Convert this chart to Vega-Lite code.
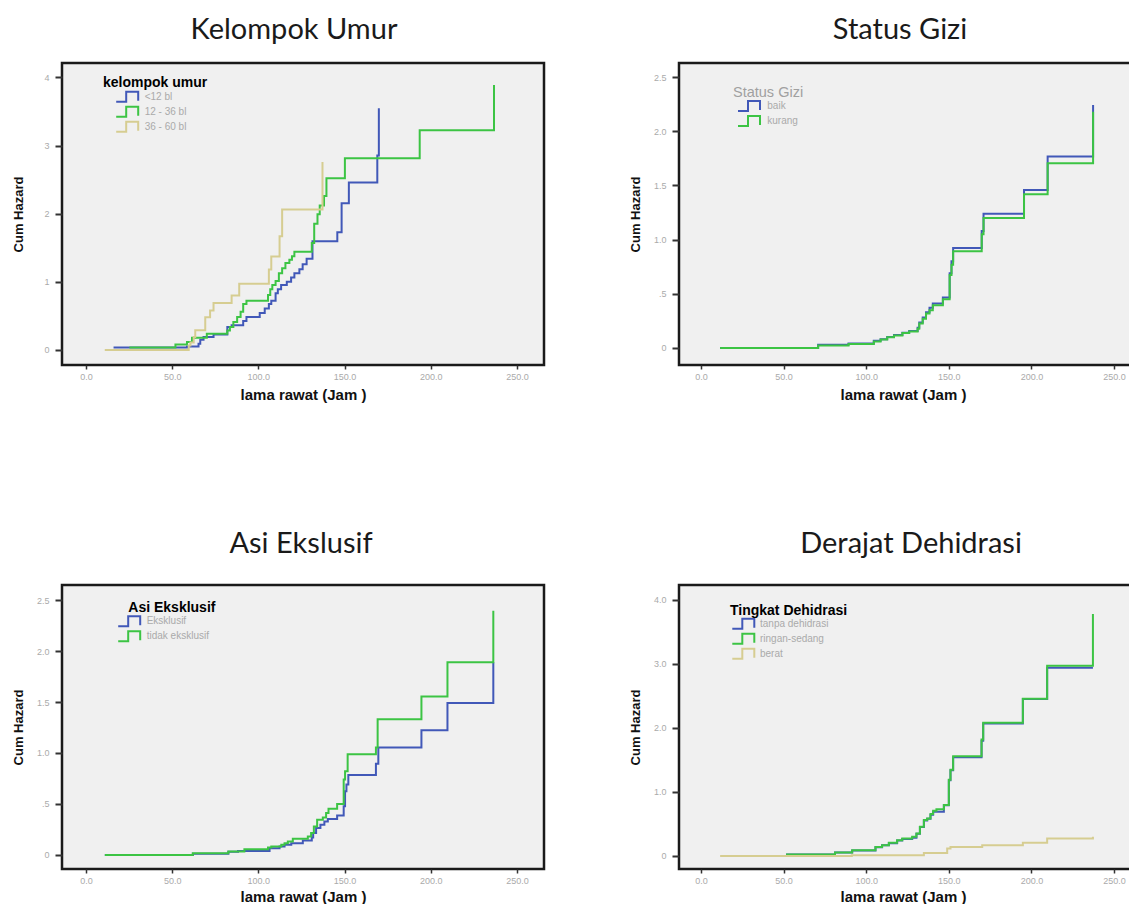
{
  "$schema": "https://vega.github.io/schema/vega-lite/v6.json",
  "autosize": {"type": "none"},
  "padding": {"left": 62, "top": 63, "right": 1067, "bottom": 841},
  "background": "white",
  "bounds": "flush",
  "columns": 2,
  "spacing": {"row": 220, "column": 135},
  "resolve": {"scale": {"x": "independent", "y": "independent", "color": "independent"}, "legend": {"color": "independent"}},
  "config": {
    "view": {"fill": "#f0f0f0", "stroke": "#1a1a1a", "strokeWidth": 2.5},
    "axis": {"grid": false, "domain": false, "labelFont": "Liberation Sans", "labelFontSize": 9, "labelColor": "#aaaaaa", "tickColor": "#333333", "titleFont": "Liberation Sans", "titleFontSize": 13, "titleFontWeight": "bold", "titleColor": "#111111"},
    "axisX": {"tickSize": 4, "tickWidth": 1.5, "labelPadding": 3, "titleFontSize": 15},
    "axisY": {"tickSize": 7, "tickWidth": 2, "labelPadding": 6},
    "legend": {"orient": "none", "padding": 0, "symbolType": "M-2.2,1L-0.2,1L-0.2,-1L2.2,-1L2.2,0.8", "symbolSize": 100, "symbolStrokeWidth": 2, "symbolFillColor": "transparent", "labelFont": "Liberation Sans", "labelFontSize": 10, "labelColor": "#aaaaaa", "titleFont": "Liberation Sans", "titleFontSize": 14, "titleFontWeight": "bold", "titleColor": "#000000"},
    "title": {"font": "Lato", "fontSize": 29, "fontWeight": "normal", "color": "#1a1a1a", "anchor": "middle", "frame": "group", "baseline": "alphabetic"}
  },
  "concat": [
    {
      "width": 482, "height": 302,
      "title": {"text": "Kelompok Umur", "offset": 18, "dx": -9},
      "data": {"values": [
        {"g": "<12 bl", "x": 16.0, "y": 0.035}, {"g": "<12 bl", "x": 58.6, "y": 0.05}, {"g": "<12 bl", "x": 65.3, "y": 0.089}, {"g": "<12 bl", "x": 66.3, "y": 0.148}, {"g": "<12 bl", "x": 68.2, "y": 0.188}, {"g": "<12 bl", "x": 74.0, "y": 0.227}, {"g": "<12 bl", "x": 82.0, "y": 0.336}, {"g": "<12 bl", "x": 84.5, "y": 0.36}, {"g": "<12 bl", "x": 91.2, "y": 0.425}, {"g": "<12 bl", "x": 93.1, "y": 0.484}, {"g": "<12 bl", "x": 100.8, "y": 0.543}, {"g": "<12 bl", "x": 103.7, "y": 0.607}, {"g": "<12 bl", "x": 106.1, "y": 0.672}, {"g": "<12 bl", "x": 107.5, "y": 0.721}, {"g": "<12 bl", "x": 110.0, "y": 0.83}, {"g": "<12 bl", "x": 111.3, "y": 0.889}, {"g": "<12 bl", "x": 113.2, "y": 0.953}, {"g": "<12 bl", "x": 116.5, "y": 1.002}, {"g": "<12 bl", "x": 119.0, "y": 1.062}, {"g": "<12 bl", "x": 120.9, "y": 1.126}, {"g": "<12 bl", "x": 123.8, "y": 1.185}, {"g": "<12 bl", "x": 125.7, "y": 1.259}, {"g": "<12 bl", "x": 128.0, "y": 1.338}, {"g": "<12 bl", "x": 131.4, "y": 1.595}, {"g": "<12 bl", "x": 145.8, "y": 1.728}, {"g": "<12 bl", "x": 148.3, "y": 2.153}, {"g": "<12 bl", "x": 152.5, "y": 2.459}, {"g": "<12 bl", "x": 169.0, "y": 2.854}, {"g": "<12 bl", "x": 169.9, "y": 3.546},
        {"g": "12 - 36 bl", "x": 25.2, "y": 0.035}, {"g": "12 - 36 bl", "x": 51.9, "y": 0.079}, {"g": "12 - 36 bl", "x": 58.6, "y": 0.114}, {"g": "12 - 36 bl", "x": 61.5, "y": 0.178}, {"g": "12 - 36 bl", "x": 70.1, "y": 0.237}, {"g": "12 - 36 bl", "x": 82.0, "y": 0.286}, {"g": "12 - 36 bl", "x": 83.5, "y": 0.336}, {"g": "12 - 36 bl", "x": 85.5, "y": 0.41}, {"g": "12 - 36 bl", "x": 87.7, "y": 0.484}, {"g": "12 - 36 bl", "x": 89.7, "y": 0.558}, {"g": "12 - 36 bl", "x": 91.2, "y": 0.672}, {"g": "12 - 36 bl", "x": 93.1, "y": 0.721}, {"g": "12 - 36 bl", "x": 105.6, "y": 0.805}, {"g": "12 - 36 bl", "x": 106.9, "y": 0.889}, {"g": "12 - 36 bl", "x": 108.1, "y": 0.953}, {"g": "12 - 36 bl", "x": 110.0, "y": 1.012}, {"g": "12 - 36 bl", "x": 111.9, "y": 1.126}, {"g": "12 - 36 bl", "x": 113.8, "y": 1.2}, {"g": "12 - 36 bl", "x": 115.7, "y": 1.274}, {"g": "12 - 36 bl", "x": 118.0, "y": 1.323}, {"g": "12 - 36 bl", "x": 119.5, "y": 1.373}, {"g": "12 - 36 bl", "x": 120.9, "y": 1.442}, {"g": "12 - 36 bl", "x": 131.0, "y": 1.57}, {"g": "12 - 36 bl", "x": 132.4, "y": 1.852}, {"g": "12 - 36 bl", "x": 134.3, "y": 1.99}, {"g": "12 - 36 bl", "x": 135.6, "y": 2.12}, {"g": "12 - 36 bl", "x": 138.1, "y": 2.26}, {"g": "12 - 36 bl", "x": 139.5, "y": 2.52}, {"g": "12 - 36 bl", "x": 150.2, "y": 2.815}, {"g": "12 - 36 bl", "x": 193.6, "y": 3.225}, {"g": "12 - 36 bl", "x": 236.7, "y": 3.89},
        {"g": "36 - 60 bl", "x": 10.9, "y": 0}, {"g": "36 - 60 bl", "x": 59.6, "y": 0.064}, {"g": "36 - 60 bl", "x": 60.6, "y": 0.11}, {"g": "36 - 60 bl", "x": 62.5, "y": 0.19}, {"g": "36 - 60 bl", "x": 63.4, "y": 0.29}, {"g": "36 - 60 bl", "x": 69.2, "y": 0.48}, {"g": "36 - 60 bl", "x": 72.0, "y": 0.58}, {"g": "36 - 60 bl", "x": 74.0, "y": 0.69}, {"g": "36 - 60 bl", "x": 84.5, "y": 0.8}, {"g": "36 - 60 bl", "x": 88.9, "y": 0.97}, {"g": "36 - 60 bl", "x": 106.1, "y": 1.18}, {"g": "36 - 60 bl", "x": 107.5, "y": 1.37}, {"g": "36 - 60 bl", "x": 112.3, "y": 1.67}, {"g": "36 - 60 bl", "x": 113.8, "y": 2.06}, {"g": "36 - 60 bl", "x": 137.2, "y": 2.76}
      ]},
      "mark": {"type": "line", "interpolate": "step-after", "strokeWidth": 2},
      "encoding": {
        "x": {"field": "x", "type": "quantitative", "scale": {"domain": [-13.9, 265.7], "nice": false, "zero": false}, "axis": {"values": [0, 50, 100, 150, 200, 250], "format": ".1f", "title": "lama rawat (Jam )", "titleY": 29, "titleBaseline": "middle"}},
        "y": {"field": "y", "type": "quantitative", "scale": {"domain": [-0.222, 4.212], "nice": false, "zero": false}, "axis": {"values": [0, 1, 2, 3, 4], "format": "d", "title": "Cum Hazard", "titleX": -44, "titleBaseline": "middle"}},
        "color": {"field": "g", "type": "nominal", "scale": {"domain": ["<12 bl", "12 - 36 bl", "36 - 60 bl"], "range": ["#4158b8", "#3cc444", "#d6cd91"]}, "legend": {"title": "kelompok umur", "legendX": 41, "legendY": 12.7, "titlePadding": 1, "rowPadding": -4.9, "symbolOffset": 18.2, "labelOffset": 11.5}}
      }
    },
    {
      "width": 482, "height": 302,
      "title": {"text": "Status Gizi", "offset": 18, "dx": -20},
      "data": {"values": [
        {"g": "baik", "x": 11.6, "y": 0}, {"g": "baik", "x": 70.9, "y": 0.03}, {"g": "baik", "x": 89.3, "y": 0.04}, {"g": "baik", "x": 104.6, "y": 0.065}, {"g": "baik", "x": 108.7, "y": 0.08}, {"g": "baik", "x": 112.7, "y": 0.1}, {"g": "baik", "x": 116.8, "y": 0.12}, {"g": "baik", "x": 121.9, "y": 0.14}, {"g": "baik", "x": 126.0, "y": 0.155}, {"g": "baik", "x": 131.1, "y": 0.185}, {"g": "baik", "x": 132.1, "y": 0.235}, {"g": "baik", "x": 134.2, "y": 0.28}, {"g": "baik", "x": 136.2, "y": 0.33}, {"g": "baik", "x": 138.3, "y": 0.37}, {"g": "baik", "x": 140.3, "y": 0.41}, {"g": "baik", "x": 146.4, "y": 0.465}, {"g": "baik", "x": 150.5, "y": 0.69}, {"g": "baik", "x": 151.6, "y": 0.8}, {"g": "baik", "x": 152.6, "y": 0.922}, {"g": "baik", "x": 169.9, "y": 1.08}, {"g": "baik", "x": 171.0, "y": 1.239}, {"g": "baik", "x": 195.5, "y": 1.457}, {"g": "baik", "x": 209.8, "y": 1.767}, {"g": "baik", "x": 237.3, "y": 2.242},
        {"g": "kurang", "x": 11.6, "y": 0}, {"g": "kurang", "x": 70.9, "y": 0.022}, {"g": "kurang", "x": 89.3, "y": 0.037}, {"g": "kurang", "x": 104.6, "y": 0.059}, {"g": "kurang", "x": 108.7, "y": 0.078}, {"g": "kurang", "x": 112.7, "y": 0.099}, {"g": "kurang", "x": 116.8, "y": 0.115}, {"g": "kurang", "x": 121.9, "y": 0.137}, {"g": "kurang", "x": 126.0, "y": 0.152}, {"g": "kurang", "x": 131.1, "y": 0.177}, {"g": "kurang", "x": 132.1, "y": 0.224}, {"g": "kurang", "x": 134.2, "y": 0.27}, {"g": "kurang", "x": 136.2, "y": 0.317}, {"g": "kurang", "x": 138.3, "y": 0.348}, {"g": "kurang", "x": 140.3, "y": 0.394}, {"g": "kurang", "x": 146.4, "y": 0.45}, {"g": "kurang", "x": 150.5, "y": 0.673}, {"g": "kurang", "x": 151.6, "y": 0.767}, {"g": "kurang", "x": 152.6, "y": 0.891}, {"g": "kurang", "x": 169.9, "y": 1.05}, {"g": "kurang", "x": 171.0, "y": 1.2}, {"g": "kurang", "x": 195.5, "y": 1.419}, {"g": "kurang", "x": 209.8, "y": 1.705}, {"g": "kurang", "x": 237.3, "y": 2.18}
      ]},
      "mark": {"type": "line", "interpolate": "step-after", "strokeWidth": 2},
      "encoding": {
        "x": {"field": "x", "type": "quantitative", "scale": {"domain": [-13.3, 278.4], "nice": false, "zero": false}, "axis": {"values": [0, 50, 100, 150, 200, 250], "format": ".1f", "title": "lama rawat (Jam )", "titleY": 29, "titleBaseline": "middle", "titleX": 224}},
        "y": {"field": "y", "type": "quantitative", "scale": {"domain": [-0.158, 2.63], "nice": false, "zero": false}, "axis": {"values": [0, 0.5, 1, 1.5, 2, 2.5], "labelExpr": "datum.value == 0 ? '0' : (datum.value < 1 ? '.5' : format(datum.value, '.1f'))", "title": "Cum Hazard", "titleX": -44, "titleBaseline": "middle"}},
        "color": {"field": "g", "type": "nominal", "scale": {"domain": ["baik", "kurang"], "range": ["#4158b8", "#3cc444"]}, "legend": {"title": "Status Gizi", "titleColor": "#a0a0a0", "titleFontWeight": "normal", "titleFontSize": 14.5, "legendX": 54, "legendY": 22.5, "titlePadding": 0, "rowPadding": -4, "symbolOffset": 10, "labelOffset": 12.3}}
      }
    },
    {
      "width": 482, "height": 284,
      "title": {"text": "Asi Ekslusif", "offset": 26, "dx": -2},
      "data": {"values": [
        {"g": "Eksklusif", "x": 10.95, "y": 0}, {"g": "Eksklusif", "x": 62.0, "y": 0.012}, {"g": "Eksklusif", "x": 82.6, "y": 0.03}, {"g": "Eksklusif", "x": 88.2, "y": 0.039}, {"g": "Eksklusif", "x": 106.5, "y": 0.066}, {"g": "Eksklusif", "x": 112.3, "y": 0.082}, {"g": "Eksklusif", "x": 115.2, "y": 0.099}, {"g": "Eksklusif", "x": 119.1, "y": 0.115}, {"g": "Eksklusif", "x": 125.8, "y": 0.141}, {"g": "Eksklusif", "x": 131.0, "y": 0.171}, {"g": "Eksklusif", "x": 131.8, "y": 0.214}, {"g": "Eksklusif", "x": 133.5, "y": 0.263}, {"g": "Eksklusif", "x": 136.0, "y": 0.296}, {"g": "Eksklusif", "x": 138.3, "y": 0.329}, {"g": "Eksklusif", "x": 140.3, "y": 0.352}, {"g": "Eksklusif", "x": 145.7, "y": 0.388}, {"g": "Eksklusif", "x": 149.5, "y": 0.477}, {"g": "Eksklusif", "x": 150.3, "y": 0.625}, {"g": "Eksklusif", "x": 151.1, "y": 0.691}, {"g": "Eksklusif", "x": 152.2, "y": 0.783}, {"g": "Eksklusif", "x": 168.2, "y": 0.895}, {"g": "Eksklusif", "x": 169.6, "y": 1.053}, {"g": "Eksklusif", "x": 194.6, "y": 1.224}, {"g": "Eksklusif", "x": 209.7, "y": 1.49}, {"g": "Eksklusif", "x": 236.3, "y": 1.891},
        {"g": "tidak eksklusif", "x": 10.95, "y": 0}, {"g": "tidak eksklusif", "x": 62.0, "y": 0.016}, {"g": "tidak eksklusif", "x": 82.6, "y": 0.033}, {"g": "tidak eksklusif", "x": 91.9, "y": 0.056}, {"g": "tidak eksklusif", "x": 105.6, "y": 0.072}, {"g": "tidak eksklusif", "x": 107.5, "y": 0.082}, {"g": "tidak eksklusif", "x": 113.3, "y": 0.099}, {"g": "tidak eksklusif", "x": 115.2, "y": 0.115}, {"g": "tidak eksklusif", "x": 117.1, "y": 0.132}, {"g": "tidak eksklusif", "x": 120.0, "y": 0.158}, {"g": "tidak eksklusif", "x": 128.7, "y": 0.181}, {"g": "tidak eksklusif", "x": 130.6, "y": 0.214}, {"g": "tidak eksklusif", "x": 132.2, "y": 0.28}, {"g": "tidak eksklusif", "x": 134.1, "y": 0.345}, {"g": "tidak eksklusif", "x": 137.4, "y": 0.368}, {"g": "tidak eksklusif", "x": 139.3, "y": 0.411}, {"g": "tidak eksklusif", "x": 140.7, "y": 0.454}, {"g": "tidak eksklusif", "x": 145.7, "y": 0.5}, {"g": "tidak eksklusif", "x": 149.5, "y": 0.74}, {"g": "tidak eksklusif", "x": 150.3, "y": 0.822}, {"g": "tidak eksklusif", "x": 151.8, "y": 0.987}, {"g": "tidak eksklusif", "x": 168.2, "y": 1.053}, {"g": "tidak eksklusif", "x": 169.2, "y": 1.332}, {"g": "tidak eksklusif", "x": 194.6, "y": 1.553}, {"g": "tidak eksklusif", "x": 209.7, "y": 1.891}, {"g": "tidak eksklusif", "x": 236.3, "y": 2.395}
      ]},
      "mark": {"type": "line", "interpolate": "step-after", "strokeWidth": 2},
      "encoding": {
        "x": {"field": "x", "type": "quantitative", "scale": {"domain": [-13.9, 265.7], "nice": false, "zero": false}, "axis": {"values": [0, 50, 100, 150, 200, 250], "format": ".1f", "title": "lama rawat (Jam )", "titleY": 27, "titleBaseline": "middle"}},
        "y": {"field": "y", "type": "quantitative", "scale": {"domain": [-0.138, 2.648], "nice": false, "zero": false}, "axis": {"values": [0, 0.5, 1, 1.5, 2, 2.5], "labelExpr": "datum.value == 0 ? '0' : (datum.value < 1 ? '.5' : format(datum.value, '.1f'))", "title": "Cum Hazard", "titleX": -44, "titleBaseline": "middle"}},
        "color": {"field": "g", "type": "nominal", "scale": {"domain": ["Eksklusif", "tidak eksklusif"], "range": ["#4158b8", "#3cc444"]}, "legend": {"title": "Asi Eksklusif", "legendX": 66.3, "legendY": 16.3, "titlePadding": 0, "rowPadding": -9, "symbolOffset": -5.1, "labelOffset": 11.5}}
      }
    },
    {
      "width": 482, "height": 284,
      "title": {"text": "Derajat Dehidrasi", "offset": 26, "dx": -9},
      "data": {"values": [
        {"g": "tanpa dehidrasi", "x": 51.5, "y": 0.021}, {"g": "tanpa dehidrasi", "x": 81.1, "y": 0.052}, {"g": "tanpa dehidrasi", "x": 91.5, "y": 0.085}, {"g": "tanpa dehidrasi", "x": 105.6, "y": 0.135}, {"g": "tanpa dehidrasi", "x": 109.6, "y": 0.165}, {"g": "tanpa dehidrasi", "x": 113.7, "y": 0.2}, {"g": "tanpa dehidrasi", "x": 118.7, "y": 0.24}, {"g": "tanpa dehidrasi", "x": 121.8, "y": 0.265}, {"g": "tanpa dehidrasi", "x": 127.8, "y": 0.285}, {"g": "tanpa dehidrasi", "x": 130.4, "y": 0.345}, {"g": "tanpa dehidrasi", "x": 132.5, "y": 0.45}, {"g": "tanpa dehidrasi", "x": 134.9, "y": 0.555}, {"g": "tanpa dehidrasi", "x": 136.9, "y": 0.58}, {"g": "tanpa dehidrasi", "x": 138.9, "y": 0.645}, {"g": "tanpa dehidrasi", "x": 140.5, "y": 0.691}, {"g": "tanpa dehidrasi", "x": 147.0, "y": 0.79}, {"g": "tanpa dehidrasi", "x": 150.0, "y": 1.18}, {"g": "tanpa dehidrasi", "x": 151.0, "y": 1.34}, {"g": "tanpa dehidrasi", "x": 152.6, "y": 1.54}, {"g": "tanpa dehidrasi", "x": 169.8, "y": 1.8}, {"g": "tanpa dehidrasi", "x": 170.8, "y": 2.07}, {"g": "tanpa dehidrasi", "x": 194.8, "y": 2.45}, {"g": "tanpa dehidrasi", "x": 209.5, "y": 2.94}, {"g": "tanpa dehidrasi", "x": 237.2, "y": 2.94},
        {"g": "ringan-sedang", "x": 51.5, "y": 0.021}, {"g": "ringan-sedang", "x": 81.1, "y": 0.052}, {"g": "ringan-sedang", "x": 91.5, "y": 0.09}, {"g": "ringan-sedang", "x": 105.6, "y": 0.141}, {"g": "ringan-sedang", "x": 109.6, "y": 0.168}, {"g": "ringan-sedang", "x": 113.7, "y": 0.204}, {"g": "ringan-sedang", "x": 118.7, "y": 0.246}, {"g": "ringan-sedang", "x": 121.8, "y": 0.272}, {"g": "ringan-sedang", "x": 127.8, "y": 0.298}, {"g": "ringan-sedang", "x": 130.4, "y": 0.351}, {"g": "ringan-sedang", "x": 132.5, "y": 0.455}, {"g": "ringan-sedang", "x": 134.9, "y": 0.56}, {"g": "ringan-sedang", "x": 136.9, "y": 0.586}, {"g": "ringan-sedang", "x": 138.9, "y": 0.654}, {"g": "ringan-sedang", "x": 140.5, "y": 0.707}, {"g": "ringan-sedang", "x": 142.5, "y": 0.728}, {"g": "ringan-sedang", "x": 147.0, "y": 0.796}, {"g": "ringan-sedang", "x": 150.0, "y": 1.188}, {"g": "ringan-sedang", "x": 151.0, "y": 1.346}, {"g": "ringan-sedang", "x": 152.6, "y": 1.555}, {"g": "ringan-sedang", "x": 169.8, "y": 1.817}, {"g": "ringan-sedang", "x": 170.8, "y": 2.079}, {"g": "ringan-sedang", "x": 194.8, "y": 2.455}, {"g": "ringan-sedang", "x": 209.5, "y": 2.969}, {"g": "ringan-sedang", "x": 237.2, "y": 3.78},
        {"g": "berat", "x": 11.6, "y": 0}, {"g": "berat", "x": 91.3, "y": 0.01}, {"g": "berat", "x": 134.9, "y": 0.047}, {"g": "berat", "x": 149.0, "y": 0.115}, {"g": "berat", "x": 151.0, "y": 0.14}, {"g": "berat", "x": 170.2, "y": 0.168}, {"g": "berat", "x": 194.8, "y": 0.204}, {"g": "berat", "x": 209.5, "y": 0.272}, {"g": "berat", "x": 237.2, "y": 0.3}
      ]},
      "mark": {"type": "line", "interpolate": "step-after", "strokeWidth": 2},
      "encoding": {
        "x": {"field": "x", "type": "quantitative", "scale": {"domain": [-13.3, 278.4], "nice": false, "zero": false}, "axis": {"values": [0, 50, 100, 150, 200, 250], "format": ".1f", "title": "lama rawat (Jam )", "titleY": 27, "titleBaseline": "middle", "titleX": 224}},
        "y": {"field": "y", "type": "quantitative", "scale": {"domain": [-0.204, 4.231], "nice": false, "zero": false}, "axis": {"values": [0, 1, 2, 3, 4], "labelExpr": "datum.value == 0 ? '0' : format(datum.value, '.1f')", "title": "Cum Hazard", "titleX": -44, "titleBaseline": "middle"}},
        "color": {"field": "g", "type": "nominal", "scale": {"domain": ["tanpa dehidrasi", "ringan-sedang", "berat"], "range": ["#4158b8", "#3cc444", "#d6cd91"]}, "legend": {"title": "Tingkat Dehidrasi", "legendX": 51, "legendY": 18.7, "titlePadding": 0, "rowPadding": -8.5, "symbolOffset": 7.3, "labelOffset": 10.7}}
      }
    }
  ]
}
